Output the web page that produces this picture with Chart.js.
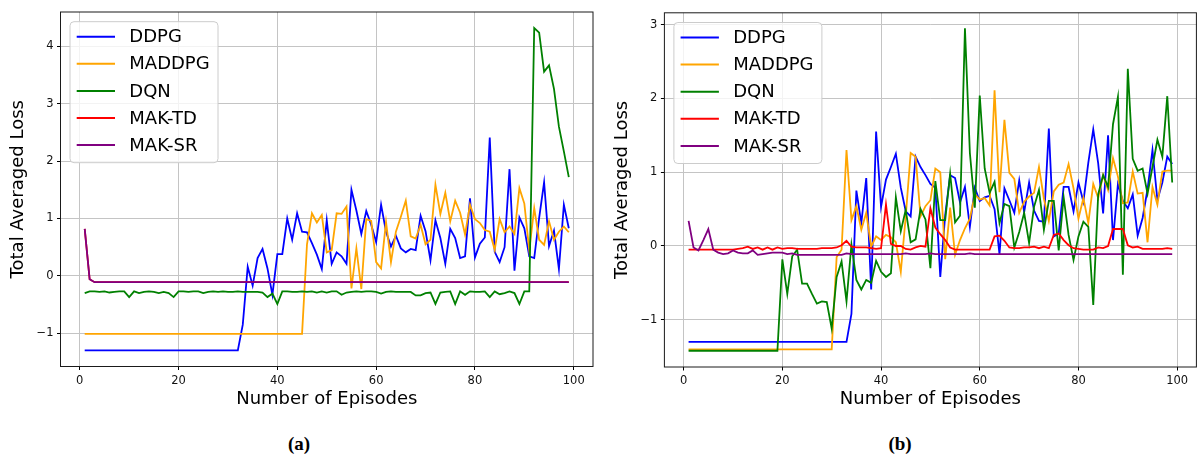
<!DOCTYPE html>
<html>
<head>
<meta charset="utf-8">
<title>Total Averaged Loss</title>
<script src="https://cdn.jsdelivr.net/npm/chart.js@4.4.0/dist/chart.umd.min.js"></script>
<style>
  body { margin: 0; background: #fff; width: 1200px; height: 459px; position: relative; overflow: hidden; }
  canvas { position: absolute; top: 0; }
  #chartA { left: 0; }
  #chartB { left: 600px; }
  .caption { position: absolute; top: 434px; width: 60px; margin-left: -30px; text-align: center;
             font: bold 19px "Liberation Serif", serif; line-height: 20px; color: #000; }
</style>
</head>
<body>
<canvas id="chartA" width="600" height="420"></canvas>
<canvas id="chartB" width="600" height="420"></canvas>
<div class="caption" style="left:299px">(a)</div>
<div class="caption" style="left:900px">(b)</div>
<script>
// Categories and ticks
const episodes = Array.from({ length: 99 }, (_, i) => i + 1);
const seriesNames = ['DDPG', 'MADDPG', 'DQN', 'MAK-TD', 'MAK-SR'];
const xTicks = [0, 20, 40, 60, 80, 100];
const yTicksA = [-1, 0, 1, 2, 3, 4];
const yTicksB = [-1, 0, 1, 2, 3];

// (a) series values, episodes 1..99
const ddpgA = [
  -1.30, -1.30, -1.30, -1.30, -1.30, -1.30, -1.30, -1.30, -1.30, -1.30,
  -1.30, -1.30, -1.30, -1.30, -1.30, -1.30, -1.30, -1.30, -1.30, -1.30,
  -1.30, -1.30, -1.30, -1.30, -1.30, -1.30, -1.30, -1.30, -1.30, -1.30,
  -1.30, -1.30, -0.85, 0.16, -0.17, 0.31, 0.47, 0.13, -0.33, 0.38,
  0.38, 1.00, 0.63, 1.09, 0.77, 0.76, 0.57, 0.37, 0.12, 0.97,
  0.21, 0.41, 0.34, 0.21, 1.50, 1.14, 0.73, 1.13, 0.89, 0.59,
  1.24, 0.77, 0.51, 0.70, 0.48, 0.41, 0.47, 0.45, 1.05, 0.78,
  0.27, 0.97, 0.66, 0.21, 0.82, 0.66, 0.31, 0.34, 1.35, 0.32,
  0.56, 0.67, 2.41, 0.42, 0.24, 0.50, 1.86, 0.09, 1.02, 0.83,
  0.34, 0.31, 1.01, 1.63, 0.52, 0.79, 0.12, 1.24, 0.83
];
const maddpgA = [
  -1.01, -1.01, -1.01, -1.01, -1.01, -1.01, -1.01, -1.01, -1.01, -1.01,
  -1.01, -1.01, -1.01, -1.01, -1.01, -1.01, -1.01, -1.01, -1.01, -1.01,
  -1.01, -1.01, -1.01, -1.01, -1.01, -1.01, -1.01, -1.01, -1.01, -1.01,
  -1.01, -1.01, -1.01, -1.01, -1.01, -1.01, -1.01, -1.01, -1.01, -1.01,
  -1.01, -1.01, -1.01, -1.01, -1.01, 0.55, 1.09, 0.93, 1.06, 0.41,
  0.45, 1.09, 1.08, 1.21, -0.22, 0.48, -0.23, 0.99, 0.96, 0.24,
  0.13, 0.94, 0.24, 0.77, 1.03, 1.31, 0.69, 0.65, 0.89, 0.55,
  0.63, 1.59, 1.08, 1.45, 0.95, 1.31, 1.10, 0.72, 1.24, 0.99,
  0.92, 0.80, 0.77, 0.45, 0.99, 0.76, 0.86, 0.73, 1.53, 1.26,
  0.45, 1.18, 0.63, 0.54, 0.95, 0.63, 0.77, 0.86, 0.76
];
const dqnA = [
  -0.30, -0.27, -0.27, -0.28, -0.27, -0.29, -0.28, -0.27, -0.27, -0.37,
  -0.27, -0.30, -0.28, -0.27, -0.28, -0.30, -0.28, -0.30, -0.37, -0.27,
  -0.27, -0.28, -0.27, -0.27, -0.30, -0.28, -0.27, -0.28, -0.27, -0.28,
  -0.28, -0.27, -0.28, -0.28, -0.28, -0.28, -0.29, -0.37, -0.31, -0.49,
  -0.27, -0.27, -0.28, -0.28, -0.27, -0.28, -0.27, -0.29, -0.27, -0.29,
  -0.27, -0.27, -0.33, -0.29, -0.28, -0.27, -0.28, -0.27, -0.27, -0.28,
  -0.31, -0.28, -0.27, -0.28, -0.28, -0.28, -0.28, -0.34, -0.34, -0.30,
  -0.29, -0.49, -0.29, -0.28, -0.27, -0.49, -0.27, -0.33, -0.27, -0.28,
  -0.28, -0.27, -0.37, -0.27, -0.32, -0.30, -0.27, -0.30, -0.49, -0.27,
  -0.27, 4.32, 4.24, 3.56, 3.67, 3.26, 2.60, 2.17, 1.72
];
const makTdA = [
  0.82, -0.06, -0.11, -0.11, -0.11, -0.11, -0.11, -0.11, -0.11, -0.11,
  -0.11, -0.11, -0.11, -0.11, -0.11, -0.11, -0.11, -0.11, -0.11, -0.11,
  -0.11, -0.11, -0.11, -0.11, -0.11, -0.11, -0.11, -0.11, -0.11, -0.11,
  -0.11, -0.11, -0.11, -0.11, -0.11, -0.11, -0.11, -0.11, -0.11, -0.11,
  -0.11, -0.11, -0.11, -0.11, -0.11, -0.11, -0.11, -0.11, -0.11, -0.11,
  -0.11, -0.11, -0.11, -0.11, -0.11, -0.11, -0.11, -0.11, -0.11, -0.11,
  -0.11, -0.11, -0.11, -0.11, -0.11, -0.11, -0.11, -0.11, -0.11, -0.11,
  -0.11, -0.11, -0.11, -0.11, -0.11, -0.11, -0.11, -0.11, -0.11, -0.11,
  -0.11, -0.11, -0.11, -0.11, -0.11, -0.11, -0.11, -0.11, -0.11, -0.11,
  -0.11, -0.11, -0.11, -0.11, -0.11, -0.11, -0.11, -0.11, -0.11
];
const makSrA = [
  0.82, -0.06, -0.11, -0.11, -0.11, -0.11, -0.11, -0.11, -0.11, -0.11,
  -0.11, -0.11, -0.11, -0.11, -0.11, -0.11, -0.11, -0.11, -0.11, -0.11,
  -0.11, -0.11, -0.11, -0.11, -0.11, -0.11, -0.11, -0.11, -0.11, -0.11,
  -0.11, -0.11, -0.11, -0.11, -0.11, -0.11, -0.11, -0.11, -0.11, -0.11,
  -0.11, -0.11, -0.11, -0.11, -0.11, -0.11, -0.11, -0.11, -0.11, -0.11,
  -0.11, -0.11, -0.11, -0.11, -0.11, -0.11, -0.11, -0.11, -0.11, -0.11,
  -0.11, -0.11, -0.11, -0.11, -0.11, -0.11, -0.11, -0.11, -0.11, -0.11,
  -0.11, -0.11, -0.11, -0.11, -0.11, -0.11, -0.11, -0.11, -0.11, -0.11,
  -0.11, -0.11, -0.11, -0.11, -0.11, -0.11, -0.11, -0.11, -0.11, -0.11,
  -0.11, -0.11, -0.11, -0.11, -0.11, -0.11, -0.11, -0.11, -0.11
];

// (b) series values, episodes 1..99
const ddpgB = [
  -1.30, -1.30, -1.30, -1.30, -1.30, -1.30, -1.30, -1.30, -1.30, -1.30,
  -1.30, -1.30, -1.30, -1.30, -1.30, -1.30, -1.30, -1.30, -1.30, -1.30,
  -1.30, -1.30, -1.30, -1.30, -1.30, -1.30, -1.30, -1.30, -1.30, -1.30,
  -1.30, -1.30, -1.30, -0.92, 0.75, 0.31, 0.92, -0.59, 1.55, 0.53,
  0.90, 1.07, 1.25, 0.79, 0.47, 0.40, 1.21, 1.07, 0.96, 0.84,
  0.79, -0.42, 0.42, 0.96, 0.92, 0.59, 0.80, 0.26, 0.79, 0.61,
  0.66, 0.68, 0.50, -0.11, 0.78, 0.62, 0.45, 0.89, 0.46, 0.86,
  0.48, 0.34, 0.33, 1.59, 0.13, 0.17, 0.80, 0.80, 0.47, 0.86,
  0.60, 1.13, 1.58, 1.12, 0.44, 1.50, 0.08, 0.84, 0.61, 0.51,
  0.70, 0.14, 0.38, 0.77, 1.30, 0.62, 0.86, 1.21, 1.11
];
const maddpgB = [
  -1.40, -1.40, -1.40, -1.40, -1.40, -1.40, -1.40, -1.40, -1.40, -1.40,
  -1.40, -1.40, -1.40, -1.40, -1.40, -1.40, -1.40, -1.40, -1.40, -1.40,
  -1.40, -1.40, -1.40, -1.40, -1.40, -1.40, -1.40, -1.40, -1.40, -1.40,
  -0.15, -0.05, 1.30, 0.35, 0.54, 0.22, 0.45, -0.01, 0.13, 0.08,
  0.15, 0.12, 0.05, -0.35, 0.40, 1.26, 1.21, 0.40, 0.54, 0.62,
  1.05, 1.00, -0.18, 0.52, -0.12, 0.08, 0.24, 0.37, 0.70, 0.63,
  0.65, 0.55, 2.11, 0.73, 1.71, 0.99, 0.91, 0.45, 0.60, 0.67,
  0.72, 1.07, 0.64, 0.34, 0.74, 0.83, 0.86, 1.11, 0.78, 0.37,
  0.65, 0.31, 0.84, 0.65, 0.96, 0.76, 1.19, 0.94, 0.58, 0.59,
  1.01, 0.71, 0.72, 0.05, 0.80, 0.56, 1.01, 1.02, 1.02
];
const dqnB = [
  -1.42, -1.42, -1.42, -1.42, -1.42, -1.42, -1.42, -1.42, -1.42, -1.42,
  -1.42, -1.42, -1.42, -1.42, -1.42, -1.42, -1.42, -1.42, -1.42, -0.18,
  -0.65, -0.14, -0.05, -0.51, -0.51, -0.65, -0.78, -0.75, -0.76, -1.12,
  -0.42, -0.21, -0.75, 0.02, -0.46, -0.59, -0.46, -0.50, -0.20, -0.35,
  -0.42, -0.37, 0.66, 0.20, 0.49, 0.05, 0.09, 0.50, 0.36, -0.30,
  0.88, 0.35, 0.35, 0.98, 0.32, 0.41, 2.95, 1.26, 0.52, 2.04,
  1.05, 0.72, 0.87, 0.31, 0.57, 0.54, -0.02, 0.19, 0.45, 0.04,
  0.53, 0.76, 0.22, 0.61, 0.61, -0.06, 0.66, 0.15, -0.19, 0.13,
  0.33, 0.26, -0.80, 0.70, 0.96, 0.80, 1.65, 2.02, -0.39, 2.40,
  1.18, 1.02, 1.05, 0.71, 1.07, 1.44, 1.21, 2.03, 0.86
];
const makTdB = [
  -0.05, -0.05, -0.05, -0.05, -0.05, -0.05, -0.05, -0.05, -0.05, -0.05,
  -0.04, -0.03, -0.01, -0.04, -0.02, -0.05, -0.02, -0.05, -0.02, -0.04,
  -0.03, -0.03, -0.04, -0.04, -0.04, -0.04, -0.04, -0.03, -0.03, -0.03,
  -0.02, 0.01, 0.07, -0.01, -0.02, -0.02, -0.02, -0.03, -0.04, -0.03,
  0.56, 0.03, 0.00, 0.00, -0.04, -0.05, -0.02, 0.00, -0.01, 0.51,
  0.25, 0.16, 0.08, -0.02, -0.05, -0.05, -0.05, -0.05, -0.05, -0.05,
  -0.05, -0.05, 0.13, 0.14, 0.07, -0.02, -0.03, -0.03, -0.02, -0.02,
  -0.01, -0.03, -0.01, -0.03, 0.15, 0.17, 0.08, 0.01, -0.03, -0.04,
  -0.05, -0.05, -0.05, -0.02, -0.03, 0.00, 0.23, 0.23, 0.23, 0.01,
  -0.02, -0.01, -0.04, -0.04, -0.04, -0.04, -0.04, -0.03, -0.04
];
const makSrB = [
  0.34, -0.02, -0.06, 0.08, 0.23, -0.05, -0.09, -0.11, -0.10, -0.06,
  -0.09, -0.10, -0.10, -0.06, -0.12, -0.11, -0.10, -0.09, -0.09, -0.09,
  -0.11, -0.10, -0.12, -0.12, -0.12, -0.12, -0.12, -0.12, -0.12, -0.12,
  -0.12, -0.12, -0.10, -0.11, -0.11, -0.11, -0.11, -0.11, -0.11, -0.11,
  -0.11, -0.11, -0.11, -0.11, -0.10, -0.11, -0.11, -0.11, -0.11, -0.10,
  -0.11, -0.11, -0.11, -0.11, -0.11, -0.11, -0.11, -0.10, -0.11, -0.11,
  -0.11, -0.11, -0.11, -0.11, -0.11, -0.11, -0.11, -0.11, -0.11, -0.11,
  -0.11, -0.11, -0.11, -0.11, -0.11, -0.11, -0.11, -0.11, -0.11, -0.11,
  -0.11, -0.11, -0.11, -0.11, -0.11, -0.11, -0.11, -0.11, -0.11, -0.11,
  -0.11, -0.11, -0.11, -0.11, -0.11, -0.11, -0.11, -0.11, -0.11
];

// Styling
const lineColors = ['#0000ff', '#ffa500', '#008000', '#ff0000', '#800080'];
const fontFamily = '"DejaVu Sans", sans-serif';
const gridColor = '#c4c4c4';

// Matplotlib style minus sign on tick labels
function formatTick(value) {
  return value < 0 ? '\u2212' + Math.abs(value) : String(value);
}

// Draws the axes frame and the legend box inside the plot area
const frameLegendPlugin = {
  id: 'frameLegend',
  afterDraw(chart) {
    const { ctx, chartArea } = chart;
    ctx.save();
    ctx.strokeStyle = '#1a1a1a';
    ctx.lineWidth = 1;
    ctx.strokeRect(chartArea.left, chartArea.top, chartArea.width, chartArea.height);

    const bx = chartArea.left + 9.5;
    const by = chartArea.top + 9.7;
    ctx.beginPath();
    ctx.roundRect(bx, by, 148, 141, 4);
    ctx.fillStyle = 'rgba(255,255,255,0.8)';
    ctx.fill();
    ctx.strokeStyle = '#cccccc';
    ctx.stroke();

    ctx.font = '18px ' + fontFamily;
    ctx.textBaseline = 'middle';
    chart.data.datasets.forEach((ds, i) => {
      const y = by + 15 + i * 27.1;
      ctx.strokeStyle = ds.borderColor;
      ctx.lineWidth = 2;
      ctx.beginPath();
      ctx.moveTo(bx + 6.7, y);
      ctx.lineTo(bx + 45, y);
      ctx.stroke();
      ctx.fillStyle = '#000';
      ctx.fillText(ds.label, bx + 59.3, y + 1);
    });
    ctx.restore();
  }
};

// Create a chart
function createChart(canvasID, seriesList, yTicks, yMin, yMax, geometry) {
  const datasets = seriesList.map((values, i) => ({
    label: seriesNames[i],
    data: values,
    borderColor: lineColors[i],
    backgroundColor: lineColors[i],
    borderWidth: 1.8,
    order: seriesList.length - i,
  }));

  new Chart(document.getElementById(canvasID), {
    type: 'line',
    data: { labels: episodes, datasets: datasets },
    plugins: [frameLegendPlugin],
    options: {
      responsive: false,
      animation: false,
      layout: { padding: geometry.padding },
      elements: { point: { radius: 0 }, line: { tension: 0 } },
      plugins: { legend: { display: false }, tooltip: { enabled: false } },
      scales: {
        x: {
          type: 'linear',
          min: -3.9,
          max: 103.9,
          afterBuildTicks: (scale) => { scale.ticks = xTicks.map((v) => ({ value: v })); },
          afterFit: (scale) => { scale.height = geometry.xAxisHeight; },
          grid: { color: gridColor, lineWidth: 1, tickLength: 3.5, tickColor: '#000' },
          border: { display: false },
          ticks: { color: '#111', font: { family: fontFamily, size: 11.5 }, padding: 4, maxRotation: 0, callback: formatTick },
          title: { display: true, text: 'Number of Episodes', color: '#000', font: { family: fontFamily, size: 18 }, padding: 0 }
        },
        y: {
          min: yMin,
          max: yMax,
          afterBuildTicks: (scale) => { scale.ticks = yTicks.map((v) => ({ value: v })); },
          afterFit: (scale) => { scale.width = geometry.yAxisWidth; },
          grid: { color: gridColor, lineWidth: 1, tickLength: 3.5, tickColor: '#000' },
          border: { display: false },
          ticks: { color: '#111', font: { family: fontFamily, size: 11.5 }, padding: 3.5, callback: formatTick },
          title: { display: true, text: 'Total Averaged Loss', color: '#000', font: { family: fontFamily, size: 18 }, padding: { top: geometry.yTitleOffset, bottom: 0 } }
        }
      }
    }
  });
}

createChart('chartA', [ddpgA, maddpgA, dqnA, makTdA, makSrA], yTicksA, -1.58, 4.6, {
  padding: { left: 0, right: 7, top: 12, bottom: 10 },
  yAxisWidth: 60.5,
  xAxisHeight: 43.5,
  yTitleOffset: 7.2
});

createChart('chartB', [ddpgB, maddpgB, dqnB, makTdB, makSrB], yTicksB, -1.64, 3.16, {
  padding: { left: 0, right: 3.6, top: 12.8, bottom: 10 },
  yAxisWidth: 64.4,
  xAxisHeight: 43,
  yTitleOffset: 11.2
});
</script>
</body>
</html>
